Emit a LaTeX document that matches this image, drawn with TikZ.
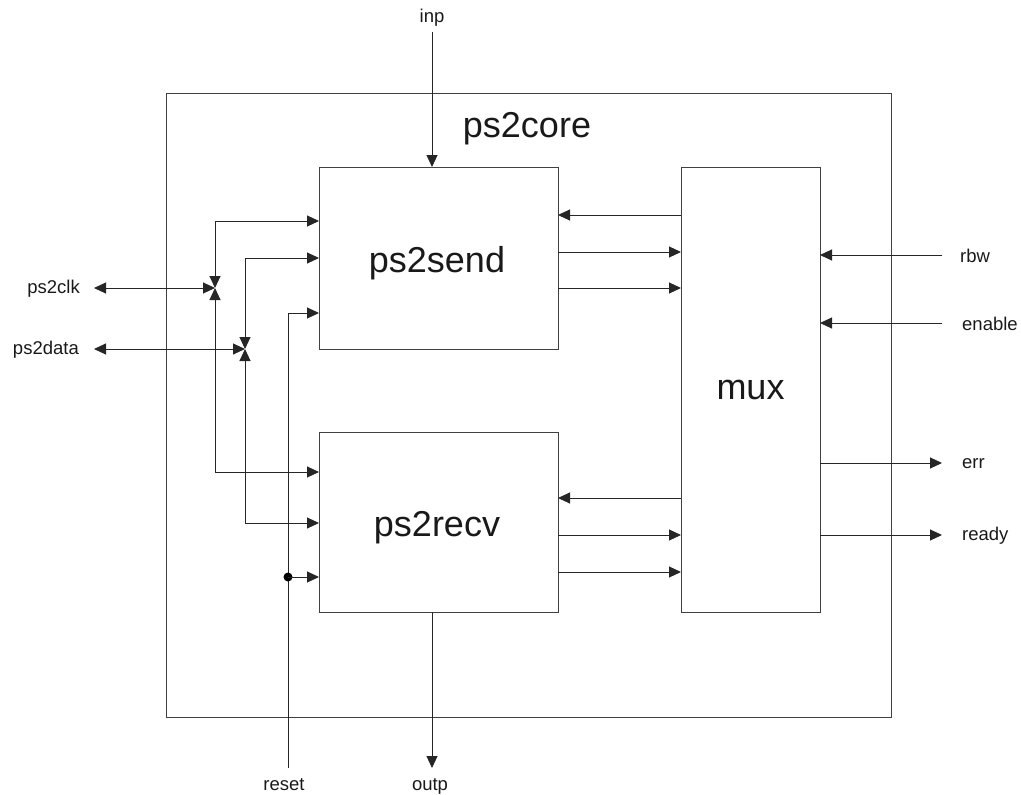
\documentclass[tikz,border=0pt]{standalone}
\usepackage{fontspec}
\setmainfont{Liberation Sans}
\usetikzlibrary{arrows.meta,calc}
\begin{document}
\begin{tikzpicture}[x=1pt,y=-1pt,
  box/.style={draw=black!75, line width=1pt, inner sep=0pt, outer sep=0pt},
  big/.style={font=\fontsize{36}{40}\selectfont, text=black!90, inner sep=0pt},
  lbl/.style={font=\fontsize{18.5}{22}\selectfont, text=black!90, inner sep=0pt},
  wire/.style={draw=black!85, line width=1pt},
  tip/.style={-{Triangle[length=12pt,width=11pt]}},
  both/.style={{Triangle[length=12pt,width=11pt]}-{Triangle[length=12pt,width=11pt]}}
]
\useasboundingbox (0,0) rectangle (1021,795);

% boxes
\node[box, minimum width=725, minimum height=624] (core) at (528.5,405) {};
\node[box, minimum width=239, minimum height=182] (send) at (438.5,258) {};
\node[box, minimum width=239, minimum height=180] (recv) at (438.5,522) {};
\node[box, minimum width=139, minimum height=445] (mux) at (750.5,389.5) {};

% box titles
\node[big, anchor=base] (coret) at (527,137) {ps2core};
\node[big, anchor=base] (sendt) at (437,272) {ps2send};
\node[big, anchor=base] (recvt) at (437,536) {ps2recv};
\node[big] (muxt) at (mux.center) {mux};

% ports
\coordinate (sw1) at ($(send.north west)+(0,54)$);
\coordinate (sw2) at ($(send.north west)+(0,91)$);
\coordinate (sw3) at ($(send.north west)+(0,146)$);
\coordinate (rw1) at ($(recv.north west)+(0,40)$);
\coordinate (rw2) at ($(recv.north west)+(0,91)$);
\coordinate (rw3) at ($(recv.north west)+(0,145)$);
\coordinate (se1) at ($(send.north east)+(0,48)$);
\coordinate (se2) at ($(send.north east)+(0,85)$);
\coordinate (se3) at ($(send.north east)+(0,121)$);
\coordinate (re1) at ($(recv.north east)+(0,66)$);
\coordinate (re2) at ($(recv.north east)+(0,103)$);
\coordinate (re3) at ($(recv.north east)+(0,140)$);

% junctions
\coordinate (J1) at (215,288);
\coordinate (J2) at (245,349);

% external labels
\node[lbl, anchor=east] (clk) at (80,289) {ps2clk};
\node[lbl, anchor=east] (dat) at (79,350) {ps2data};
\node[lbl, anchor=base] (inp) at (432,22) {inp};
\node[lbl, anchor=base] (rst) at (284,790) {reset};
\node[lbl, anchor=base] (outp) at (430,790) {outp};
\node[lbl, anchor=west] (rbw) at (960,256) {rbw};
\node[lbl, anchor=west] (ena) at (962,324) {enable};
\node[lbl, anchor=west] (err) at (962,464) {err};
\node[lbl, anchor=west] (rdy) at (962,536) {ready};

% free ends
\coordinate (clkE) at (94,288);
\coordinate (datE) at (94,349);
\coordinate (inpE) at (432,32);
\coordinate (outpE) at (432,768);
\coordinate (rstE) at (288,768);
\coordinate (rbwE) at (942,255);
\coordinate (enaE) at (942,323);
\coordinate (errE) at (942,463);
\coordinate (rdyE) at (942,535);

% left side
\draw[wire, both] (clkE) -- (J1);
\draw[wire, both] (datE) -- (J2);
\draw[wire, both] (J1) |- (sw1);
\draw[wire, both] (J1) |- (rw1);
\draw[wire, both] (J2) |- (sw2);
\draw[wire, both] (J2) |- (rw2);
\draw[wire, tip] (rstE) |- (sw3);
\coordinate (rdot) at (rw3 -| rstE);
\fill[black] (rdot) circle (4.5);
\draw[wire, tip] (rdot) -- (rw3);

% top / bottom
\draw[wire, tip] (inpE) -- (inpE |- send.north);
\draw[wire, tip] (recv.south -| outpE) -- (outpE);

% send/recv <-> mux
\draw[wire, tip] (se1 -| mux.west) -- (se1);
\draw[wire, tip] (se2) -- (se2 -| mux.west);
\draw[wire, tip] (se3) -- (se3 -| mux.west);
\draw[wire, tip] (re1 -| mux.west) -- (re1);
\draw[wire, tip] (re2) -- (re2 -| mux.west);
\draw[wire, tip] (re3) -- (re3 -| mux.west);

% mux right side
\draw[wire, tip] (rbwE) -- (rbwE -| mux.east);
\draw[wire, tip] (enaE) -- (enaE -| mux.east);
\draw[wire, tip] (errE -| mux.east) -- (errE);
\draw[wire, tip] (rdyE -| mux.east) -- (rdyE);
\end{tikzpicture}
\end{document}
